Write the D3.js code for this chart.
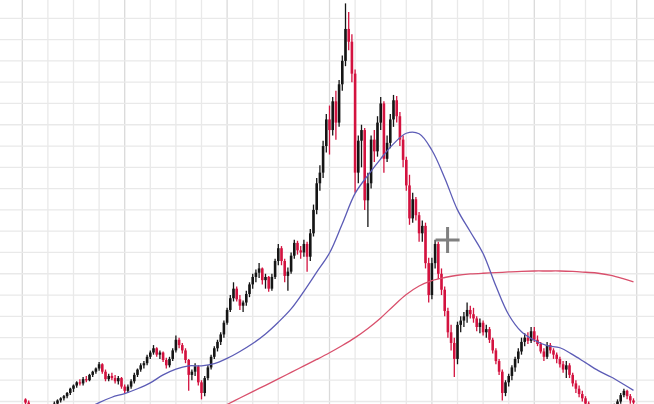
<!DOCTYPE html>
<html><head><meta charset="utf-8">
<script src="https://cdn.jsdelivr.net/npm/d3@7"></script>
<style>html,body{margin:0;padding:0;background:#fff;overflow:hidden}</style>
</head><body><svg id="c" width="654" height="404"></svg>
<script>
// bar index of first bar
const firstBar = 1;
const openP = [
102,99,96,92,88,85,87,90,92,95,
98,101,103,105,108,112,115,118,117,121,
120,125,128,131,135,128,121,124,122,119,
122,114,110,114,119,125,130,134,136,142,
146,150,144,146,139,134,140,148,158,153,
148,139,125,128,133,118,108,122,132,142,
150,156,163,174,186,197,206,196,190,193,
201,210,217,221,225,214,217,206,217,232,
244,232,218,222,237,249,242,240,248,236,
258,280,305,315,340,365,355,382,362,398,
420,450,438,408,315,345,355,289,305,346,
335,362,380,328,343,365,383,368,346,327,
303,272,290,275,258,265,230,200,230,248,
220,205,185,165,155,140,172,176,180,186,
182,178,170,174,165,168,158,148,138,128,
108,118,124,132,140,147,156,160,157,166,
158,154,147,142,153,148,144,140,135,130,
134,125,117,112,107,103,98,95,91,88,
86,87,85,88,92,96,100,106,110,105,101];
const highP = [
103,101,97,94,90,88,91,94,97,100,
102,104,106,109,113,116,119,121,123,124,
126,129,132,137,136,130,126,127,125,124,
123,116,116,121,127,131,136,138,144,148,
153,151,148,147,141,142,150,162,160,155,
150,140,130,136,134,120,124,134,144,152,
158,165,176,188,200,212,208,200,195,204,
212,220,224,230,226,220,218,220,234,248,
246,234,226,240,252,251,246,252,250,262,
285,310,322,345,370,378,386,392,402,425,
474,466,445,412,350,360,357,315,350,355,
368,386,382,350,370,388,387,372,350,330,
313,296,292,278,270,268,235,235,252,250,
225,208,188,172,160,175,180,184,193,190,
188,180,178,176,172,170,160,150,140,130,
120,126,134,142,150,160,164,165,170,170,
162,156,150,156,155,150,146,142,138,138,
136,127,120,115,110,105,100,97,93,90,
89,89,90,94,98,102,108,112,111,107,103];
const lowP = [
97,94,90,86,82,82,85,88,90,93,
96,99,101,103,106,109,113,115,115,118,
119,123,126,129,126,119,119,120,117,116,
112,107,108,112,117,123,128,131,134,140,
144,142,140,137,131,132,138,146,150,145,
136,110,120,124,115,102,105,120,130,140,
147,153,160,172,184,194,194,186,184,190,
198,206,212,216,210,206,203,204,215,228,
228,212,204,220,234,238,234,236,222,232,
255,276,298,310,334,332,350,346,358,392,
415,430,400,296,305,320,280,264,300,325,
330,355,315,325,338,358,362,340,320,298,
266,268,270,250,250,225,193,196,225,215,
200,180,160,148,123,135,165,170,174,178,
174,166,164,162,160,155,145,135,125,101,
105,114,120,128,136,144,152,154,155,156,
152,145,138,140,145,140,136,132,127,122,
122,114,108,104,100,95,92,88,85,82,
83,82,83,86,90,94,98,104,102,98,96];
const closeP = [
99,96,92,88,85,87,90,92,95,98,
101,103,105,108,112,115,118,117,121,120,
125,128,131,135,128,121,124,122,119,122,
114,110,114,119,125,130,134,136,142,146,
150,144,146,139,134,140,148,158,153,148,
139,125,128,133,118,108,122,132,142,150,
156,163,174,186,197,206,196,190,193,201,
210,217,221,225,214,217,206,217,232,244,
232,218,222,237,249,242,240,248,236,258,
280,305,315,340,365,355,382,362,398,420,
450,438,408,315,345,355,289,305,346,335,
362,380,328,343,365,383,368,346,327,303,
272,290,275,258,265,230,200,230,248,220,
205,185,165,155,140,172,176,180,186,182,
178,170,174,165,168,158,148,138,128,108,
118,124,132,140,147,156,160,157,166,158,
154,147,142,153,148,144,140,135,130,134,
125,117,112,107,103,98,95,91,88,86,
87,85,88,92,96,100,106,110,105,101,99];

// moving averages (bar index, value)
const blueBars = [22,24,28,32,36,40,44,48,52,56,60,64,68,72,76,80,84,88,92,96,100,104,108,112,116,120,124,128,132,136,140,144,148,152,156,160,164,168,172,176,180,184,188,191];
const blueMA = [96,99,104,107.5,112,117.5,125,130.5,133.5,133.5,135.5,140.5,147,154.5,163.5,174.5,187,203.5,221.5,239.5,267,295.5,312.5,328,342,352,351.5,336,310,280,259.5,239,208.5,181.5,165.5,157.5,152.5,150.5,144,136.5,129,123,116,110.5];
const redBars = [64,68,72,76,80,84,88,92,96,100,104,108,112,116,120,124,128,132,136,140,144,148,152,156,160,164,168,172,176,180,184,188,191];
const redMA = [97.2,103.3,109.3,115.2,121.2,127.3,133.4,139.5,145.8,152.6,160,168.6,178.5,189.8,200.5,208.5,213.6,216.5,218.6,219.8,220.5,221,221.7,222.3,222.6,222.6,222.6,222.2,221.4,220.5,218.4,215.1,212.3];

// grid & cursor
const gridBarStep = 8, gridPriceStep = 20;
const cursor = {bar: 132.9, price: 251.7};

const svg = d3.select('#c');
const x = d3.scaleLinear().domain([0, 198]).range([22.3, 22.3 + 3.2 * 198]);
const y = d3.scaleLinear().domain([100, 480]).range([401.5, -3]);

const g = svg.append('g');
g.selectAll('line.v').data(d3.range(0, 199, gridBarStep)).join('line')
  .attr('x1', d => x(d)).attr('x2', d => x(d)).attr('y1', 0).attr('y2', 404)
  .attr('stroke', d => d % 32 === 0 ? '#dadada' : '#e9e9e9').attr('stroke-width', 1.3);
g.selectAll('line.h').data(d3.range(100, 481, gridPriceStep)).join('line')
  .attr('x1', 0).attr('x2', 654).attr('y1', d => y(d)).attr('y2', d => y(d))
  .attr('stroke', '#e9e9e9').attr('stroke-width', 1.3);

const bars = openP.map((o, k) => ({i: firstBar + k, o, h: highP[k], l: lowP[k], c: closeP[k]}));
const col = d => d.c >= d.o ? '#151515' : '#d3123f';
const cg = svg.append('g');
cg.selectAll('line.w').data(bars).join('line')
  .attr('x1', d => x(d.i)).attr('x2', d => x(d.i))
  .attr('y1', d => y(d.h)).attr('y2', d => y(d.l))
  .attr('stroke', col).attr('stroke-width', 1.3);
cg.selectAll('rect').data(bars).join('rect')
  .attr('x', d => x(d.i) - 1.3).attr('width', 2.6)
  .attr('y', d => y(Math.max(d.o, d.c)))
  .attr('height', d => Math.max(1.2, Math.abs(y(d.o) - y(d.c))))
  .attr('fill', col);

const line = d3.line().x(d => x(d[0])).y(d => y(d[1])).curve(d3.curveCatmullRom.alpha(0.5));
svg.append('path').datum(redBars.map((b, k) => [b, redMA[k]]))
  .attr('d', line).attr('fill', 'none').attr('stroke', '#d9506c').attr('stroke-width', 1.3);
svg.append('path').datum(blueBars.map((b, k) => [b, blueMA[k]]))
  .attr('d', line).attr('fill', 'none').attr('stroke', '#5c5cb6').attr('stroke-width', 1.3);

// cursor crosshair
const cx = x(cursor.bar), cy = y(cursor.price);
svg.append('path').attr('d', `M${cx-12},${cy}H${cx+12}M${cx},${cy-13}V${cy+13}`)
  .attr('stroke', '#808080').attr('stroke-width', 3).attr('fill', 'none');
</script></body></html>
